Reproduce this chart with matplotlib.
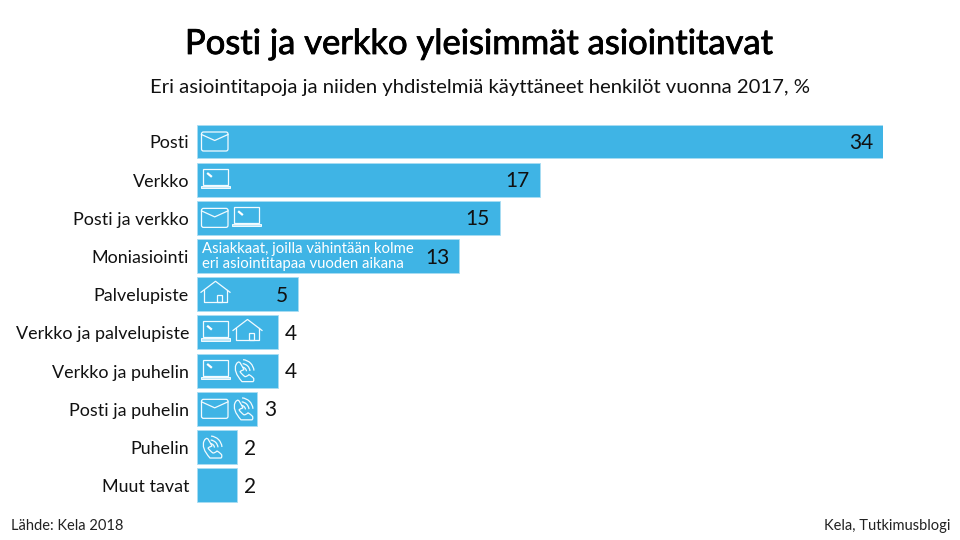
"""
Posti ja verkko -palkkikuvio
"""

import matplotlib

matplotlib.use("Agg")
import matplotlib.patheffects as pe
import matplotlib.pyplot as plt
import numpy as np
from matplotlib.patches import Arc, FancyBboxPatch, PathPatch, Rectangle
from matplotlib.path import Path

labels = [
    "Posti",
    "Verkko",
    "Posti ja verkko",
    "Moniasiointi",
    "Palvelupiste",
    "Verkko ja palvelupiste",
    "Verkko ja puhelin",
    "Posti ja puhelin",
    "Puhelin",
    "Muut tavat",
]
values = [34, 17, 15, 13, 5, 4, 4, 3, 2, 2]
icons = [
    ["mail"],
    ["laptop"],
    ["mail", "laptop"],
    [],
    ["house"],
    ["laptop", "house"],
    ["laptop", "phone"],
    ["mail", "phone"],
    ["phone"],
    [],
]

title = "Posti ja verkko yleisimmät asiointitavat"
subtitle = "Eri asiointitapoja ja niiden yhdistelmiä käyttäneet henkilöt vuonna 2017, %"
note = ["Asiakkaat, joilla vähintään kolme", "eri asiointitapaa vuoden aikana"]
source = "Lähde: Kela 2018"
credit = "Kela, Tutkimusblogi"

BAR_COLOR = "#3FB4E5"
ICON_COLOR = "#F2FBFF"
FONT = ["Lato", "DejaVu Sans"]
W, H = 960, 540


def draw_mail(ov, x, yc):
    ov.add_patch(
        FancyBboxPatch(
            (x + 0.5, yc - 9.5), 26.5, 19, boxstyle="round,pad=0,rounding_size=2",
            fc="none", ec=ICON_COLOR, lw=0.9,
        )
    )
    ov.plot([x + 0.5, x + 13.7, x + 27], [yc - 7, yc - 1, yc - 7], color=ICON_COLOR, lw=0.9)


def draw_laptop(ov, x, yc):
    ov.add_patch(Rectangle((x + 2, yc - 11), 25, 16, fc="none", ec=ICON_COLOR, lw=0.9))
    ov.add_patch(Rectangle((x, yc + 6), 29, 2.5, fc="#BDE6F7", ec=ICON_COLOR, lw=0.7))
    ov.plot([x + 7, x + 10], [yc - 6, yc - 3.5], color="white", lw=1.6)


def draw_house(ov, x, yc):
    ov.plot(
        [x, x + 14.5, x + 29], [yc - 2, yc - 13, yc - 2],
        color=ICON_COLOR, lw=0.9, solid_joinstyle="miter",
    )
    ov.plot(
        [x + 3, x + 3, x + 26, x + 26], [yc - 4, yc + 8, yc + 8, yc - 4],
        color=ICON_COLOR, lw=0.9,
    )
    ov.add_patch(Rectangle((x + 16, yc + 1), 5, 7, fc="none", ec=ICON_COLOR, lw=0.9))


def draw_phone(ov, x, yc):
    verts = [
        (x + 3, yc - 6), (x + 5, yc - 10), (x + 7, yc - 8), (x + 10, yc - 3),
        (x + 11, yc - 1), (x + 8, yc), (x + 7, yc + 1),
        (x + 9, yc + 4), (x + 12, yc + 6), (x + 14, yc + 6),
        (x + 16, yc + 4), (x + 18, yc + 5), (x + 20, yc + 7),
        (x + 22, yc + 9), (x + 20, yc + 11), (x + 17, yc + 11),
        (x + 9, yc + 11), (x, yc + 1), (x + 3, yc - 6),
    ]
    codes = [Path.MOVETO] + [Path.CURVE3, Path.CURVE3] * 9
    ov.add_patch(PathPatch(Path(verts, codes), fc="none", ec=ICON_COLOR, lw=0.9))
    for r in (4.5, 8, 12):
        ov.add_patch(
            Arc((x + 9, yc + 1), 2 * r, 2 * r, angle=0, theta1=275, theta2=355, ec=ICON_COLOR, lw=0.9)
        )


ICON_DRAW = {"mail": draw_mail, "laptop": draw_laptop, "house": draw_house, "phone": draw_phone}
ICON_WIDTH = {"mail": 31, "laptop": 32, "house": 33, "phone": 30}


def main():
    plt.rcParams["font.family"] = FONT

    fig = plt.figure(figsize=(W / 100, H / 100), dpi=100, facecolor="white")

    # plot area: x runs 0-34 over the longest bar, rows are 38.19 px apart
    ax = fig.add_axes([196.8 / W, 1 - 504.3 / H, (883 - 196.8) / W, (504.3 - 122.4) / H])
    y = np.arange(len(labels))
    ax.barh(y, values, height=0.89, color=BAR_COLOR, edgecolor="#A9DDF3", linewidth=0.6)
    ax.set_xlim(0, 34)
    ax.set_ylim(len(labels) - 0.5, -0.5)
    ax.axis("off")

    # pixel overlay for text and icons
    ov = fig.add_axes([0, 0, 1, 1], facecolor="none")
    ov.set_xlim(0, W)
    ov.set_ylim(H, 0)
    ov.axis("off")

    # Lato has no medium cut here, so thicken the regular one a little
    ov.text(
        480, 44, title, ha="center", va="center", fontsize=24.9, color="black",
        path_effects=[pe.withStroke(linewidth=0.6, foreground="black")],
    )
    ov.text(480, 87, subtitle, ha="center", va="center", fontsize=14.6, color="#111111")

    for i, (label, value) in enumerate(zip(labels, values)):
        yc = 141.5 + i * 38.19
        xe = 196.8 + value * (686.2 / 34)
        ov.text(189, yc + 2, label, ha="right", va="center", fontsize=12.9, color="#111111")
        if value >= 5:
            ov.text(xe - 10, yc + 1.5, str(value), ha="right", va="center", fontsize=15, color="#111111")
        else:
            ov.text(xe + 7, yc + 1.5, str(value), ha="left", va="center", fontsize=15, color="#111111")
        x = 201
        for name in icons[i]:
            ICON_DRAW[name](ov, x, yc)
            x += ICON_WIDTH[name]

    ov.text(202, 249, note[0], ha="left", va="center", fontsize=10.7, color="white")
    ov.text(202, 264, note[1], ha="left", va="center", fontsize=10.7, color="white")

    ov.text(11, 526, source, ha="left", va="center", fontsize=10.5, color="#222222")
    ov.text(950, 526, credit, ha="right", va="center", fontsize=10.5, color="#222222")

    fig.savefig("out.png", dpi=100)
    plt.close(fig)


if __name__ == "__main__":
    main()
